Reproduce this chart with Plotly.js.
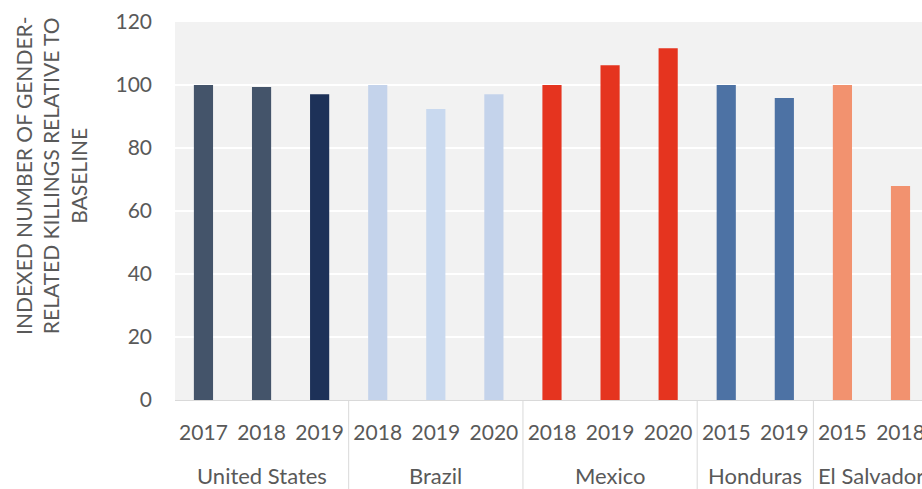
<!DOCTYPE html>
<html>
<head>
<meta charset="utf-8">
<script src="https://cdn.plot.ly/plotly-3.0.1.min.js"></script>
<style>html,body{margin:0;padding:0;overflow:hidden;background:#fff;}</style>
</head>
<body>
<div id="chart" style="width:922px;height:489px;"></div>
<script>
const countries = ["United States","United States","United States","Brazil","Brazil","Brazil","Mexico","Mexico","Mexico","Honduras","Honduras","El Salvador","El Salvador"];
const years = ["2017","2018","2019","2018","2019","2020","2018","2019","2020","2015","2019","2015","2018"];
const values = [100, 99.4, 97.1, 100, 92.4, 97.1, 100, 106.3, 111.7, 100, 95.9, 100, 67.9];
const barColors = ["#44546a","#44546a","#1d3158","#c4d3eb","#c9d9ef","#c4d3eb","#e5341f","#e5341f","#e5341f","#4d72a4","#4d72a4","#f2926f","#f2926f"];
const yTicks = [0,20,40,60,80,100,120];
const yTitle = "INDEXED NUMBER OF GENDER-<br>RELATED KILLINGS RELATIVE TO<br>BASELINE";

const font = "Lato, 'Open Sans', sans-serif";
const grey = "#595959";
const idx = years.map((_, i) => i);

// group spans computed from the country array
const groups = [];
countries.forEach((c, i) => {
  const g = groups[groups.length - 1];
  if (g && g.name === c) g.end = i; else groups.push({name: c, start: i, end: i});
});

const plotH = 489 - 22 - 89;
const toPaperY = px => (400 - px) / plotH;

const shapes = [];
const annotations = [];
groups.forEach((g, k) => {
  if (k === 0) shapes.push({type: "line", xref: "x", yref: "paper", x0: g.start - 0.5, x1: g.start - 0.5, y0: 0, y1: toPaperY(489), line: {color: "#d9d9d9", width: 1}});
  shapes.push({type: "line", xref: "x", yref: "paper", x0: g.end + 0.5, x1: g.end + 0.5, y0: 0, y1: toPaperY(489), line: {color: "#d9d9d9", width: 1}});
  annotations.push({text: g.name, xref: "x", yref: "paper", x: (g.start + g.end) / 2, y: toPaperY(475), xanchor: "center", yanchor: "middle", showarrow: false, borderpad: 0, font: {family: font, size: 22, color: grey}});
});
annotations.push({
  text: yTitle,
  xref: "paper", yref: "paper",
  x: (51 - 175) / 747, y: toPaperY(176),
  xanchor: "center", yanchor: "middle",
  textangle: -90, showarrow: false,
  font: {family: font, size: 21, color: grey},
  align: "center"
});

const trace = {
  type: "bar",
  x: idx,
  y: values,
  width: 0.33,
  marker: {color: barColors},
  hoverinfo: "skip"
};
const layout = {
  width: 922, height: 489,
  margin: {l: 175, r: 0, t: 22, b: 89, pad: 0},
  paper_bgcolor: "#ffffff",
  plot_bgcolor: "#f2f2f2",
  showlegend: false,
  font: {family: font, size: 21, color: grey},
  xaxis: {
    range: [-0.49, 12.37],
    tickvals: idx, ticktext: years,
    showline: true, linecolor: "#d9d9d9", linewidth: 1,
    showgrid: false, zeroline: false,
    tickfont: {family: font, size: 21, color: grey},
    ticks: "",
    ticklabelstandoff: 14,
    ticklabeloverflow: "allow"
  },
  yaxis: {
    range: [0, 120],
    tickvals: yTicks,
    showgrid: true, gridcolor: "#ffffff", gridwidth: 2,
    zeroline: false, showline: false,
    tickfont: {family: font, size: 21, color: grey},
    ticklabelstandoff: 22
  },
  shapes: shapes,
  annotations: annotations
};
Plotly.newPlot("chart", [trace], layout, {displayModeBar: false, staticPlot: true});
</script>
</body>
</html>
